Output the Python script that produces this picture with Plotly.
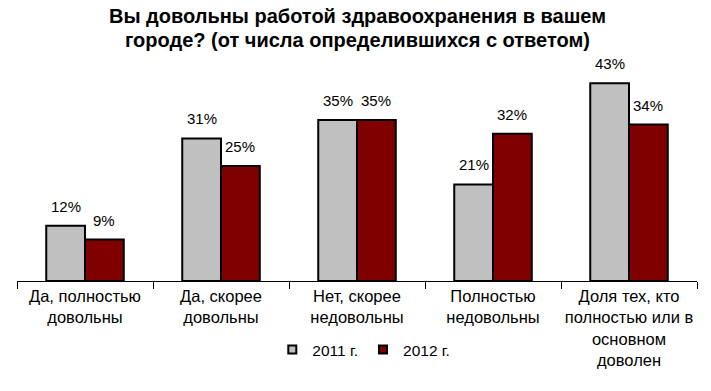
import plotly.graph_objects as go

categories = [
    "Да, полностью<br>довольны",
    "Да, скорее<br>довольны",
    "Нет, скорее<br>недовольны",
    "Полностью<br>недовольны",
    "Доля тех, кто<br>полностью или в<br>основном<br>доволен",
]
series_2011 = [12, 31, 35, 21, 43]
series_2012 = [9, 25, 35, 32, 34]
names = ["2011 г.", "2012 г."]
colors = ["#C0C0C0", "#800000"]
title_lines = [
    "Вы довольны работой здравоохранения в вашем",
    "городе? (от числа определившихся с ответом)",
]

font_family = "Liberation Sans, Arial, sans-serif"

W, H = 711, 391
L, R, T, B = 17, 14, 51, 110
BARGAP = 0.43
plot_w = W - L - R
plot_h = H - T - B
cat_w = plot_w / len(categories)
bar_w = cat_w * (1 - BARGAP) / 2

fig = go.Figure()
annotations = []
for i, (name, vals, col) in enumerate(zip(names, [series_2011, series_2012], colors)):
    fig.add_trace(go.Bar(
        x=categories, y=vals, name=name, showlegend=False,
        marker=dict(color=col, line=dict(color="#000000", width=2)),
        cliponaxis=False, hoverinfo="skip",
    ))
    fig.add_trace(go.Scatter(
        x=[None], y=[None], mode="markers", name=name,
        marker=dict(symbol="square", size=8, color=col,
                    line=dict(color="#000000", width=2)),
        showlegend=True,
    ))
    shift = (i - 0.5) * bar_w
    for c, v in zip(categories, vals):
        annotations.append(dict(
            x=c, y=v, xref="x", yref="y", text=f"{v}%", showarrow=False,
            xanchor="center", yanchor="bottom", xshift=shift, yshift=9,
            font=dict(size=15, family=font_family, color="#000000"),
        ))

# title, one annotation per line for tighter line spacing
for line, ypx in zip(title_lines, [16, 40]):
    annotations.append(dict(
        text=f"<b>{line}</b>", xref="paper", yref="paper",
        x=0.5, y=1 + (T - ypx) / plot_h, xanchor="center", yanchor="middle",
        showarrow=False, align="center",
        font=dict(size=20, family=font_family, color="#000000"),
    ))

fig.update_layout(
    width=W, height=H,
    margin=dict(l=L, r=R, t=T, b=B, autoexpand=False),
    paper_bgcolor="white", plot_bgcolor="white",
    barmode="group", bargap=BARGAP, bargroupgap=0,
    font=dict(family=font_family, size=14, color="#000000"),
    xaxis=dict(
        type="category", tickangle=0,
        showline=True, linecolor="#000000", linewidth=1,
        ticks="outside", tickson="boundaries", ticklen=7, tickcolor="#000000",
        tickfont=dict(size=16.5, family=font_family),
        showgrid=False, automargin=False,
    ),
    yaxis=dict(range=[0, 50], visible=False, showgrid=False, automargin=False),
    legend=dict(
        orientation="h", x=0.51, xanchor="center", y=-0.3, yanchor="middle",
        font=dict(size=15.5, family=font_family), itemwidth=30,
        traceorder="normal", tracegroupgap=0,
    ),
    showlegend=True,
    annotations=annotations,
)

fig.write_html(
    "out.html",
    config={"displayModeBar": False},
    post_script="document.body.style.margin='0';document.body.style.overflow='hidden';",
)
